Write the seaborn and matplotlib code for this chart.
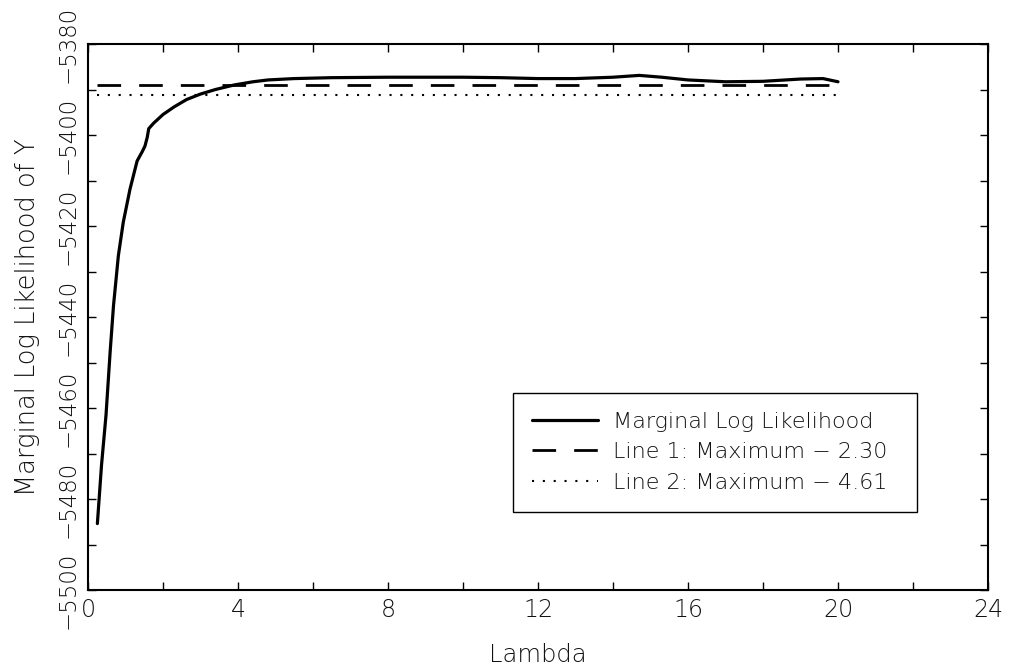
import matplotlib
matplotlib.use("Agg")
import matplotlib.pyplot as plt
from matplotlib.ticker import MultipleLocator
import seaborn as sns
import pandas as pd

# ---- data ----
lam = [0.25, 0.36, 0.48, 0.59, 0.68, 0.81, 0.94, 1.12, 1.31, 1.45, 1.52, 1.58,
       1.62, 1.75, 2.0, 2.3, 2.63, 3.0, 3.4, 3.9, 4.4, 4.8, 5.5, 6.5, 8.0, 10.0,
       11.0, 12.0, 13.0, 14.0, 14.7, 15.3, 16.0, 17.0, 18.0, 19.0, 19.6, 20.0]
loglik = [-5485.4, -5472.6, -5461.6, -5447.7, -5437.5, -5426.5, -5419.2, -5411.9,
          -5405.7, -5403.6, -5402.4, -5400.5, -5398.6, -5397.4, -5395.5, -5393.8,
          -5392.2, -5391.0, -5390.0, -5389.0, -5388.3, -5387.9, -5387.6, -5387.4,
          -5387.3, -5387.3, -5387.4, -5387.6, -5387.6, -5387.3, -5386.9, -5387.3,
          -5387.9, -5388.3, -5388.2, -5387.7, -5387.6, -5388.3]
line_x = [0.25, 20.0]
line1_y = [-5389.0, -5389.0]
line2_y = [-5391.3, -5391.3]
labels = ["Marginal Log Likelihood", "Line 1: Maximum \u2212 2.30", "Line 2: Maximum \u2212 4.61"]
x_label = "Lambda"
y_label = "Marginal Log Likelihood of Y"

sns.set_style("ticks")
plt.rcParams['font.family'] = ['DejaVu Sans']
plt.rcParams['font.weight'] = 200
txt = '#111111'

fig = plt.figure(figsize=(10.1, 6.7), dpi=100)
ax = fig.add_axes([88/1010, 80/670, 900/1010, 546/670])

df = pd.DataFrame({"lam": lam, "ll": loglik})
sns.lineplot(data=df, x="lam", y="ll", ax=ax, color="black", lw=2.3,
             label=labels[0], sort=False)
sns.lineplot(x=line_x, y=line1_y, ax=ax, color="black", lw=2.0,
             linestyle=(0, (8.5, 6.5)), label=labels[1])
sns.lineplot(x=line_x, y=line2_y, ax=ax, color="black", lw=1.5,
             linestyle=(0, (1, 4.2)), label=labels[2])

ax.set_xlim(0, 24)
ax.set_ylim(-5500, -5380)
ax.xaxis.set_major_locator(MultipleLocator(4))
ax.xaxis.set_minor_locator(MultipleLocator(2))
ax.yaxis.set_major_locator(MultipleLocator(20))
ax.yaxis.set_minor_locator(MultipleLocator(10))
ax.tick_params(which='both', direction='in', top=True, right=True,
               length=6, width=1.0, color='black')
ax.tick_params(axis='x', labelsize=17, labelcolor=txt, pad=6)
ax.tick_params(axis='y', labelsize=16.5, labelcolor=txt, pad=6)
for lbl in ax.get_yticklabels():
    lbl.set_rotation(90)
    lbl.set_va('center')
for s in ax.spines.values():
    s.set_linewidth(1.5)
    s.set_color('black')

ax.set_xlabel(x_label, fontsize=17.5, fontweight=200, color=txt, labelpad=15)
ax.set_ylabel(y_label, fontsize=18.5, fontweight=200, color=txt, labelpad=12)

leg = ax.legend(loc='upper left', bbox_to_anchor=(0.472, 0.361, 0.449, 0.0),
                mode='expand', fancybox=False, edgecolor='black', framealpha=1,
                fontsize=16, handlelength=3.0, labelspacing=0.47,
                borderpad=0.85, handletextpad=0.68, borderaxespad=0)
leg.get_frame().set_linewidth(1.0)
for t in leg.get_texts():
    t.set_color(txt)

fig.savefig("out.png", dpi=100)
